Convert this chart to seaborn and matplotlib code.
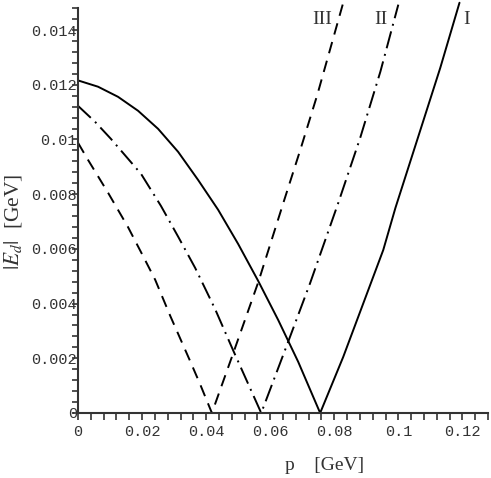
import numpy as np
import pandas as pd
import matplotlib
matplotlib.use("Agg")
import matplotlib.pyplot as plt
import seaborn as sns

# momentum p [GeV] and |E_d| [GeV], for the three curves
p_I = [0.0, 0.00625, 0.0125, 0.01875, 0.025, 0.03125, 0.0375, 0.04375, 0.05,
       0.05625, 0.0625, 0.06875, 0.0756, 0.0828, 0.0891, 0.0953, 0.0991,
       0.1078, 0.1131, 0.1191]
E_I = [0.01216, 0.01193, 0.01156, 0.01105, 0.01039, 0.00955, 0.00852, 0.00743,
       0.00618, 0.00483, 0.0034, 0.00187, 0.0, 0.00205, 0.00402, 0.00596,
       0.0075, 0.01068, 0.01262, 0.0150]

p_II = [0.0, 0.0053, 0.0103, 0.0197, 0.0259, 0.0313, 0.0366, 0.0428, 0.0484,
        0.0572, 0.0656, 0.0725, 0.08125, 0.0881, 0.0944, 0.1]
E_II = [0.01123, 0.01065, 0.01002, 0.00874, 0.00757, 0.00644, 0.0053, 0.0038,
        0.0023, 0.0, 0.0026, 0.00476, 0.00768, 0.01006, 0.01248, 0.01493]

p_III = [0.0, 0.0031, 0.0094, 0.0156, 0.0203, 0.0241, 0.0288, 0.035, 0.0381,
         0.0418, 0.0485, 0.0563, 0.0644, 0.0694, 0.0747, 0.0828]
E_III = [0.00988, 0.00926, 0.00805, 0.0068, 0.00574, 0.00487, 0.00355, 0.0019,
         0.00106, 0.0, 0.0022, 0.00479, 0.00779, 0.00962, 0.01163, 0.015]

curve_names = ["I", "II", "III"]
label_pos = [(0.1213, 0.01438), (0.0966, 0.01438), (0.0794, 0.01438)]

x_ticks = [0, 0.02, 0.04, 0.06, 0.08, 0.1, 0.12]
x_ticklabels = ["0", "0.02", "0.04", "0.06", "0.08", "0.1", "0.12"]
y_ticks = [0, 0.002, 0.004, 0.006, 0.008, 0.01, 0.012, 0.014]
y_ticklabels = ["0", "0.002", "0.004", "0.006", "0.008", "0.01", "0.012", "0.014"]

sns.set_style("ticks")
plt.rcParams["mathtext.fontset"] = "stix"

fig = plt.figure(figsize=(4.91, 4.78), dpi=100)
ax = fig.add_axes([78 / 491, 65 / 478, 410 / 491, 413 / 478])

styles = ["-", (0, (9, 3, 1, 3)), (0, (6, 4))]
for name, px, ey, ls in zip(curve_names, [p_I, p_II, p_III],
                            [E_I, E_II, E_III], styles):
    df = pd.DataFrame({"p": px, "E": ey})
    sns.lineplot(data=df, x="p", y="E", ax=ax, color="black", lw=1.4,
                 linestyle=ls, sort=False, estimator=None)

for name, (lx, ly) in zip(curve_names, label_pos):
    ax.text(lx, ly, name, ha="right" if name != "I" else "center",
            va="center", fontsize=14, family="Liberation Serif", color="#333")

ax.set_xlim(0, 0.128)
ax.set_ylim(0, 0.0151)
ax.set_xticks(x_ticks)
ax.set_xticklabels(x_ticklabels)
ax.set_yticks(y_ticks)
ax.set_yticklabels(y_ticklabels)
ax.set_xticks(np.arange(0, 0.1281, 0.004), minor=True)
ax.set_yticks(np.arange(0, 0.01481, 0.0004), minor=True)

for s in ["top", "right"]:
    ax.spines[s].set_visible(False)
for s in ["left", "bottom"]:
    ax.spines[s].set_linewidth(1.5)
    ax.spines[s].set_color("#333")
ax.spines["left"].set_bounds(0, 0.0148)

ax.tick_params(axis="x", which="both", length=5, width=1.2, color="#333",
               pad=4)
ax.tick_params(axis="y", which="both", length=4.3, width=1.2, color="#333",
               pad=-3.6)
for lab in ax.get_xticklabels() + ax.get_yticklabels():
    lab.set_family("Liberation Mono")
    lab.set_fontsize(11)
    lab.set_color("#333")

ax.set_xlabel("")
ax.set_ylabel("")
fig.text(325 / 491, 13 / 478, "p    [GeV]", ha="center", va="center",
         fontsize=14, family="Liberation Serif", color="#333")
fig.text(13 / 491, (478 - 222) / 478, r"$|E_d|$  [GeV]", ha="center",
         va="center", rotation=90, fontsize=15.5, family="Liberation Serif",
         color="#333")

fig.savefig("out.png", dpi=100)
